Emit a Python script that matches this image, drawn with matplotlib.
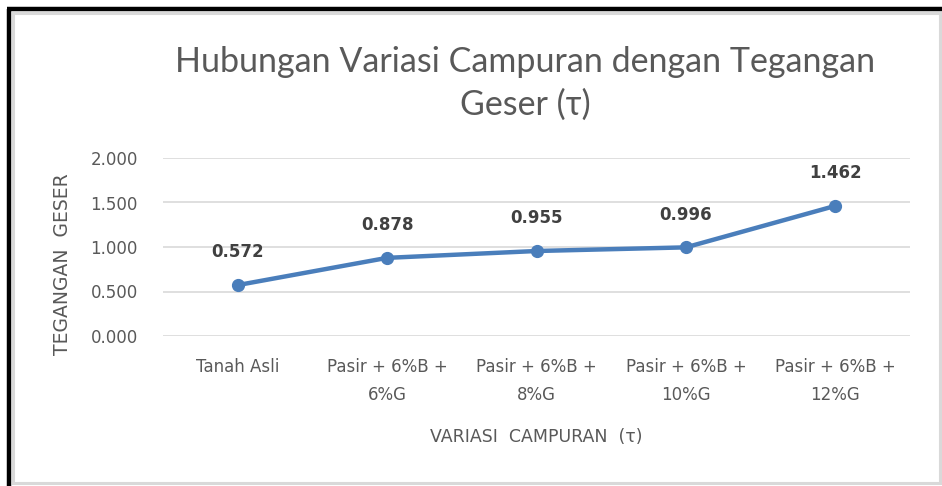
import matplotlib.pyplot as plt
from matplotlib.patches import Rectangle
from matplotlib.lines import Line2D

# chart data
categories = ["Tanah Asli", "Pasir + 6%B +\n6%G", "Pasir + 6%B +\n8%G",
              "Pasir + 6%B +\n10%G", "Pasir + 6%B +\n12%G"]
tau_values = [0.572, 0.878, 0.955, 0.996, 1.462]
y_ticks = [0.0, 0.5, 1.0, 1.5, 2.0]

W, H = 942, 486
fig = plt.figure(figsize=(W / 100, H / 100), dpi=100)
fig.patch.set_facecolor("white")

title_font = ["Lato", "DejaVu Sans"]
axis_font = ["DejaVu Sans"]
grey = "#595959"

# outer frame: light grey box plus black edge on left/top
fig.add_artist(Rectangle((13 / W, 1 - 483 / H), (940 - 13) / W, (483 - 13) / H,
                         transform=fig.transFigure, fill=False,
                         edgecolor="#d9d9d9", linewidth=2.2))
fig.add_artist(Line2D([9 / W, 9 / W], [0, 1 - 9 / H], transform=fig.transFigure,
                      color="black", linewidth=3.2, solid_capstyle="butt"))
fig.add_artist(Line2D([7 / W, 1], [1 - 9 / H, 1 - 9 / H], transform=fig.transFigure,
                      color="black", linewidth=3.2, solid_capstyle="butt"))

# axes placed in pixel coords
left, right, top, bottom = 163, 910, 158, 336
ax = fig.add_axes([left / W, 1 - bottom / H, (right - left) / W, (bottom - top) / H])

x = range(len(categories))
ax.plot(x, tau_values, color="#4a7ebb", linewidth=3.2, marker="o",
        markersize=8.5, solid_capstyle="round", zorder=3)

for xi, v in zip(x, tau_values):
    ax.annotate(f"{v:.3f}", (xi, v), xytext=(0, 17), textcoords="offset points",
                ha="center", va="bottom", fontsize=12, fontweight="bold",
                color="#404040", family=axis_font)

ax.set_xlim(-0.5, len(categories) - 0.5)
ax.set_ylim(0, 2.0)
ax.set_yticks(y_ticks)
ax.set_yticklabels([f"{t:.3f}" for t in y_ticks])
ax.set_xticks(list(x))
ax.set_xticklabels(categories)
ax.grid(axis="y", color="#d9d9d9", linewidth=1.2)
ax.set_axisbelow(True)
for s in ax.spines.values():
    s.set_visible(False)
ax.tick_params(length=0, colors=grey, labelsize=12)
ax.tick_params(axis="y", pad=18)
ax.tick_params(axis="x", pad=16)
for lbl in ax.get_xticklabels() + ax.get_yticklabels():
    lbl.set_family(axis_font)
for lbl in ax.get_xticklabels():
    lbl.set_linespacing(1.7)

fig.text(536 / W, 1 - 437 / H, "VARIASI  CAMPURAN  (τ)", ha="center", va="center",
         fontsize=12.5, color=grey, family=axis_font)
fig.text(63 / W, 1 - 264 / H, "TEGANGAN  GESER", ha="center", va="center",
         rotation=90, fontsize=13.5, color=grey, family=axis_font)

fig.text(525 / W, 1 - 83 / H, "Hubungan Variasi Campuran dengan Tegangan\nGeser (τ)",
         ha="center", va="center", fontsize=24.5, color=grey, family=title_font,
         linespacing=1.4)

fig.savefig("out.png", dpi=100, facecolor="white")
